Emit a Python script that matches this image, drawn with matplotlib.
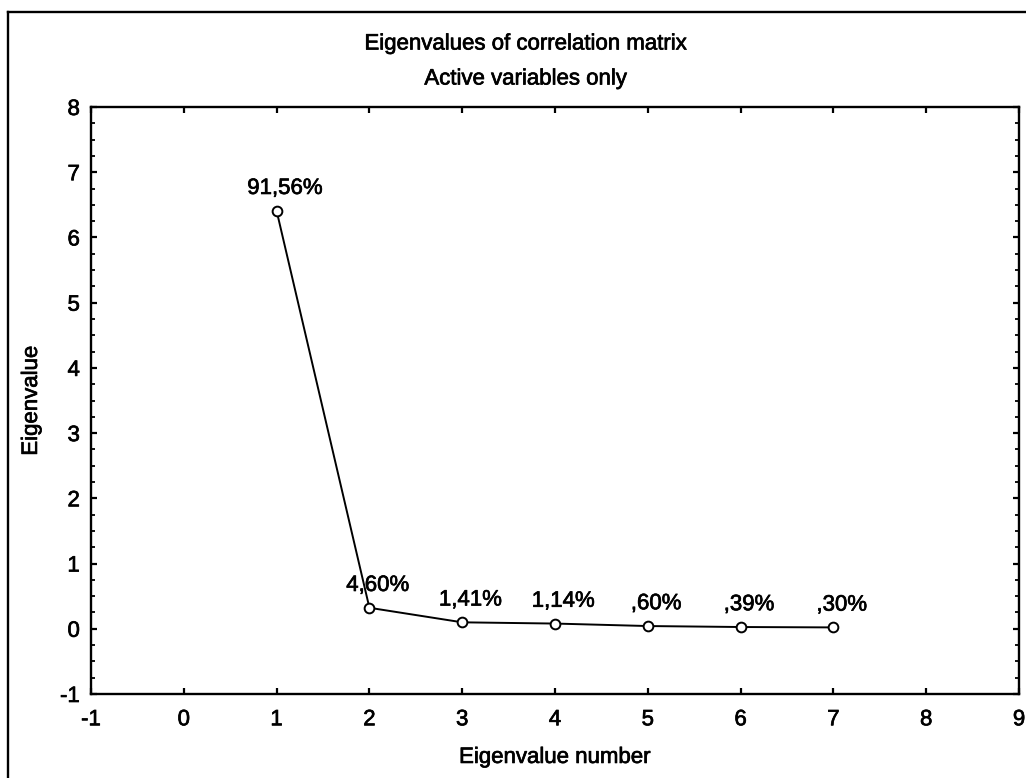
import matplotlib
matplotlib.use("Agg")
import matplotlib.pyplot as plt
import matplotlib.patheffects as pe
from matplotlib.lines import Line2D
from matplotlib.ticker import MultipleLocator

plt.rcParams['font.family'] = ['Liberation Sans', 'DejaVu Sans']

# Eigenvalues of the correlation matrix (7 active variables) and their share of variance
eigen_number = [1, 2, 3, 4, 5, 6, 7]
eigenvalues = [6.409, 0.322, 0.099, 0.080, 0.042, 0.027, 0.021]
pct_labels = ["91,56%", "4,60%", "1,41%", "1,14%", ",60%", ",39%", ",30%"]
x_ticks = [-1, 0, 1, 2, 3, 4, 5, 6, 7, 8, 9]
y_ticks = [-1, 0, 1, 2, 3, 4, 5, 6, 7, 8]

W, H = 1026, 778
fig = plt.figure(figsize=(W / 100, H / 100), dpi=100)
ax = fig.add_axes([91 / W, (H - 694) / H, (1019 - 91) / W, (694 - 107) / H])

# slightly heavier glyphs for all text
heavy = [pe.withStroke(linewidth=0.5, foreground='black')]

ax.plot(eigen_number, eigenvalues, color='black', lw=1.4, marker='o',
        markersize=7, markerfacecolor='white', markeredgecolor='black',
        markeredgewidth=1.4, zorder=3)

for xv, yv, lab in zip(eigen_number, eigenvalues, pct_labels):
    ax.annotate(lab, (xv, yv), xytext=(6, 8.5), textcoords='offset points',
                ha='center', va='bottom', fontsize=16, color='black',
                path_effects=heavy)

ax.set_xlim(-1, 9)
ax.set_ylim(-1, 8)
ax.set_xticks(x_ticks)
ax.set_yticks(y_ticks)
ax.set_xticklabels([str(t) for t in x_ticks])
ax.set_yticklabels([str(t) for t in y_ticks])
ax.yaxis.set_minor_locator(MultipleLocator(0.25))

for s in ax.spines.values():
    s.set_linewidth(1.7)
    s.set_color('black')

ax.tick_params(axis='both', which='major', direction='in', length=4, width=1.6,
               labelsize=16, top=True, right=True)
ax.tick_params(axis='x', which='major', pad=11)
ax.tick_params(axis='y', which='major', pad=8)
ax.tick_params(axis='y', which='minor', direction='in', length=3, width=1.3,
               left=True, right=True)
for t in ax.get_xticklabels() + ax.get_yticklabels():
    t.set_path_effects(heavy)

ax.set_xlabel("Eigenvalue number", fontsize=16, labelpad=12, path_effects=heavy)
ax.set_ylabel("Eigenvalue", fontsize=16, labelpad=13, path_effects=heavy)

fig.text(526 / W, 1 - 44 / H, "Eigenvalues of correlation matrix",
         ha='center', va='center', fontsize=16, path_effects=heavy)
fig.text(526 / W, 1 - 79 / H, "Active variables only",
         ha='center', va='center', fontsize=16, path_effects=heavy)

# outer frame around the whole graph
fig.add_artist(Line2D([8 / W, 8 / W], [1 - 12 / H, -0.01], transform=fig.transFigure,
                      color='black', lw=1.7))
fig.add_artist(Line2D([8 / W, 1.01], [1 - 12 / H, 1 - 12 / H], transform=fig.transFigure,
                      color='black', lw=1.7))

fig.savefig("out.png", dpi=100)
